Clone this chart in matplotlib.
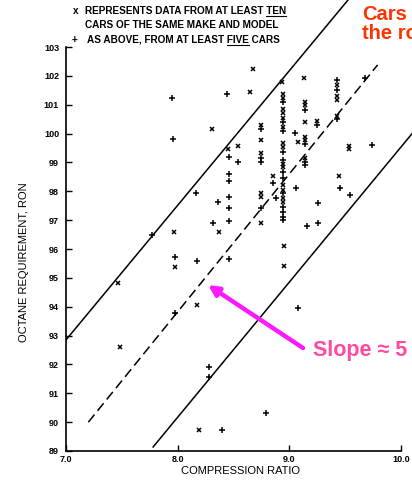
import matplotlib
matplotlib.use('Agg')

import matplotlib.pyplot as plt
from matplotlib.lines import Line2D

plt.rcParams['font.family'] = ['Liberation Sans', 'DejaVu Sans']
plt.rcParams['lines.scale_dashes'] = False

# data (compression ratio, octane requirement)
ten_cr = [7.47, 7.48, 7.97, 7.98, 8.17, 8.19, 8.31, 8.37, 8.45, 8.54,
          8.67, 8.65, 8.93, 9.13,
          8.75, 8.75, 8.75, 8.75, 8.75, 8.75,
          8.85, 8.95, 8.95,
          8.94, 8.94, 8.94, 8.94, 8.94, 8.94, 8.94, 8.94, 8.94, 8.94, 8.94, 8.94, 8.94, 8.94,
          9.14, 9.14, 9.14, 9.14, 9.14, 9.14,
          9.08, 9.25, 9.43, 9.43, 9.43, 9.43, 9.53, 9.53, 9.44]
ten_ron = [94.82, 92.6, 96.59, 95.38, 94.06, 89.73, 100.16, 96.59, 99.46, 99.57,
           102.24, 101.44, 101.79, 101.93,
           100.30, 99.78, 99.32, 97.93, 97.81, 96.89,
           98.53, 96.1, 95.41,
           101.36, 101.22, 100.84, 100.70, 100.53, 100.24, 99.66, 99.52, 98.95, 98.84, 98.22, 98.05, 97.76, 97.64,
           101.10, 100.99, 100.41, 99.89, 99.78, 99.14,
           99.71, 100.45, 101.7, 101.3, 101.15, 100.6, 99.57, 99.47, 98.53]

five_cr = [7.77, 7.95, 7.96, 7.98, 7.98, 8.17, 8.16,
           8.46, 8.46, 8.46, 8.46, 8.46, 8.46, 8.36, 8.32, 8.46, 8.44, 8.54,
           8.75, 8.75, 8.75, 8.75, 8.85, 8.88, 9.08, 8.79,
           8.94, 8.94, 8.94, 8.94, 8.94, 8.94, 8.94, 8.94, 8.94, 8.94, 8.94, 8.94,
           9.14, 9.14, 9.14, 9.14, 9.05, 9.06, 9.25,
           9.43, 9.43, 9.43, 9.68, 9.74, 9.45, 9.54, 9.26, 9.16, 9.26,
           8.28, 8.28, 8.40]
five_ron = [96.49, 101.23, 99.81, 95.72, 93.78, 95.58, 97.94,
            99.19, 98.6, 98.36, 97.8, 97.42, 96.98, 97.63, 96.9, 95.65, 101.37, 99.02,
            100.15, 99.14, 99.03, 97.41, 98.29, 97.77, 93.96, 90.32,
            101.10, 100.41, 100.09, 99.37, 99.08, 98.68, 98.45, 97.93, 97.47, 97.29, 97.12, 97.01,
            100.82, 99.64, 99.03, 98.91, 100.02, 98.11, 100.30,
            101.85, 101.5, 100.5, 101.93, 99.6, 98.11, 97.87, 97.6, 96.8, 96.9,
            91.91, 91.57, 89.73]

upper_x, upper_y = [7.0, 9.54], [92.85, 104.7]
mid_x, mid_y = [7.2, 9.79], [90.0, 102.38]
lower_x, lower_y = [7.78, 10.12], [89.14, 100.1]

y_ticks = list(range(89, 104))
x_ticks = [7.0, 8.0, 9.0, 10.0]
x_labels = ['7.0', '8.0', '9.0', '10.0']

fig = plt.figure(figsize=(4.12, 4.88), dpi=100)
ax = fig.add_axes([66 / 412, 37 / 488, 346 / 412, 451 / 488])
ax.set_xlim(7.0, 10.098)
ax.set_ylim(89, 104.63)

ax.plot(upper_x, upper_y, color='black', linewidth=1.1)
ax.plot(lower_x, lower_y, color='black', linewidth=1.1)
ax.plot(mid_x, mid_y, color='black', linewidth=1.1, dashes=(7, 3.5))

ax.plot(ten_cr, ten_ron, linestyle='none', marker='x', markersize=3.4,
        markeredgewidth=1.1, color='black')
ax.plot(five_cr, five_ron, linestyle='none', marker='+', markersize=4.6,
        markeredgewidth=1.1, color='black')

for s in ['top', 'right']:
    ax.spines[s].set_visible(False)
ax.spines['left'].set_bounds(89, 103)
ax.spines['bottom'].set_bounds(7.0, 10.0)
ax.spines['left'].set_linewidth(1.2)
ax.spines['bottom'].set_linewidth(1.2)

ax.set_yticks(y_ticks)
ax.set_yticklabels([str(v) for v in y_ticks], fontsize=6.5, fontweight='bold')
ax.set_xticks(x_ticks)
ax.set_xticklabels(x_labels, fontsize=6.5, fontweight='bold')
ax.tick_params(axis='both', direction='in', length=4, width=1.0)
ax.tick_params(axis='y', pad=5)
ax.tick_params(axis='x', pad=3)

fig.text(24 / 412, 1 - 262 / 488, 'OCTANE REQUIREMENT, RON', rotation=90,
         ha='center', va='center', fontsize=8)
fig.text(241 / 412, 1 - 471 / 488, 'COMPRESSION RATIO', ha='center',
         va='center', fontsize=8)

# key text at the top, with underlined words
key_kw = dict(fontsize=7.2, fontweight='bold', va='baseline')
fig.text(73 / 412, 1 - 14 / 488, 'x', **key_kw)
t1 = fig.text(85 / 412, 1 - 14 / 488, 'REPRESENTS DATA FROM AT LEAST TEN', **key_kw)
fig.text(85 / 412, 1 - 27.5 / 488, 'CARS OF THE SAME MAKE AND MODEL', **key_kw)
fig.text(72 / 412, 1 - 43 / 488, '+', **key_kw)
t3 = fig.text(87 / 412, 1 - 43 / 488, 'AS ABOVE, FROM AT LEAST FIVE CARS', **key_kw)

r = fig.canvas.get_renderer()


def width_of(s):
    tmp = fig.text(0, 0, s, **key_kw)
    w = tmp.get_window_extent(r).width
    tmp.remove()
    return w


def underline(txt, word, tail, y_px):
    full = txt.get_window_extent(r)
    x0 = full.x1 - width_of(word + tail)
    x1 = x0 + width_of(word)
    fig.add_artist(Line2D([x0 / 412, x1 / 412], [1 - y_px / 488] * 2,
                          transform=fig.transFigure, color='black', linewidth=0.8))


underline(t1, 'TEN', '', 16)
underline(t3, 'FIVE', ' CARS', 44.5)

# overlaid annotations
fig.text(362 / 412, 1 - 20 / 488, 'Cars', color='#ff3300', fontsize=14.5,
         fontweight='bold', va='baseline')
fig.text(362 / 412, 1 - 39 / 488, 'the ro', color='#ff3300', fontsize=14.5,
         fontweight='bold', va='baseline')
ax.annotate('', xy=(208 / 412, 1 - 285 / 488), xytext=(303 / 412, 1 - 348 / 488),
            xycoords='figure fraction', textcoords='figure fraction',
            arrowprops=dict(arrowstyle='-|>', color='#ff19ff', linewidth=3.2,
                            mutation_scale=15, shrinkA=0, shrinkB=0))
fig.text(313 / 412, 1 - 356 / 488, 'Slope \u2248 5', color='#ff4aa0', fontsize=15.5,
         fontweight='bold', va='baseline')

fig.savefig('out.png', dpi=100)
